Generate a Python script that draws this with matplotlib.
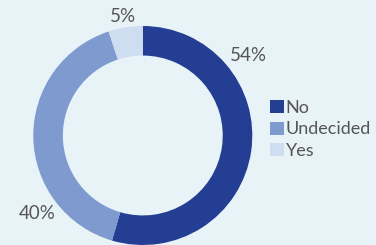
import matplotlib
matplotlib.use("Agg")
import matplotlib.pyplot as plt
from matplotlib.patches import Patch

categories = ["No", "Undecided", "Yes"]
values = [54, 40, 5]
colors = ["#233E92", "#7F9ACF", "#CFDDF0"]
bg = "#E8F3F8"

W, H = 376, 245
fig = plt.figure(figsize=(W / 100, H / 100), dpi=100)
fig.patch.set_facecolor(bg)
ax = fig.add_axes([0, 0, 1, 1])
ax.set_facecolor(bg)

cx, cy, R = 142.8, 135.5, 109.5
ax.pie(values, colors=colors, startangle=90, counterclock=False, radius=1,
       wedgeprops=dict(width=0.27, linewidth=0))
ax.set_xlim(-cx / R, (W - cx) / R)
ax.set_ylim(-(H - cy) / R, cy / R)
ax.set_aspect("equal")
ax.axis("off")

font = "Lato"
label_pos = [(0.96, 0.735), (-0.96, -0.71), (-0.18, 1.09)]
for v, (x, y) in zip(values, label_pos):
    ax.text(x, y, f"{v}%", ha="center", va="center", fontsize=13.5,
            color="#555555", family=font)

handles = [Patch(facecolor=c, edgecolor="none") for c in colors]
leg = fig.legend(handles, categories, loc="center left",
                 bbox_to_anchor=(270 / W, 1 - 129.5 / H), frameon=False,
                 handlelength=0.75, handleheight=0.75, borderaxespad=0,
                 handletextpad=0.12, labelspacing=0.3, borderpad=0,
                 prop=dict(family=font, size=13))
for t in leg.get_texts():
    t.set_color("#555555")

fig.savefig("out.png", dpi=100, facecolor=bg)
